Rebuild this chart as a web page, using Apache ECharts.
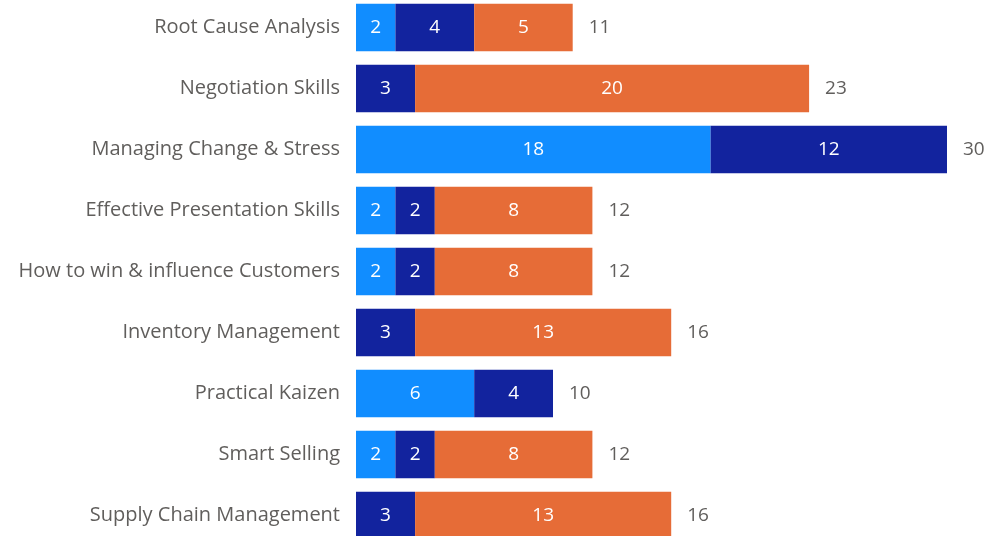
<!DOCTYPE html>
<html><head><meta charset="utf-8">
<script src="https://cdn.jsdelivr.net/npm/echarts@6/dist/echarts.min.js"></script>
<style>html,body{margin:0;padding:0;background:#fff;overflow:hidden;width:1000px;height:536px}#c{width:1000px;height:552px;margin-top:-3.5px}</style>
</head><body><div id="c"></div>
<script>
const categories = ["Root Cause Analysis","Negotiation Skills","Managing Change & Stress","Effective Presentation Skills","How to win & influence Customers","Inventory Management","Practical Kaizen","Smart Selling","Supply Chain Management"];
const seriesA = [2, null, 18, 2, 2, null, 6, 2, null];
const seriesB = [4, 3, 12, 2, 2, 3, 4, 2, 3];
const seriesC = [5, 20, null, 8, 8, 13, null, 8, 13];
const totals = [11, 23, 30, 12, 12, 16, 10, 12, 16];

const font = "'Open Sans', 'Noto Sans', sans-serif";
const inLabel = {show:true, position:'inside', color:'#fff', fontSize:19, fontFamily:font};
const chart = echarts.init(document.getElementById('c'));
chart.setOption({
  animation:false,
  grid:{left:356, width:591, top:0, height:549},
  xAxis:{type:'value', min:0, max:30, show:false},
  yAxis:{type:'category', data:categories, inverse:true,
    axisLine:{show:false}, axisTick:{show:false},
    axisLabel:{color:'#605E5C', fontSize:20, fontFamily:font, margin:16}},
  series:[
    {type:'bar', stack:'s', data:seriesA, barCategoryGap:'22%', itemStyle:{color:'#118DFF'}, label:inLabel},
    {type:'bar', stack:'s', data:seriesB, itemStyle:{color:'#12239E'}, label:inLabel},
    {type:'bar', stack:'s', data:seriesC, itemStyle:{color:'#E66C37'}, label:inLabel},
    {type:'bar', data:totals, barGap:'-100%', itemStyle:{color:'rgba(0,0,0,0)'}, silent:true,
     label:{show:true, position:'right', distance:16, color:'#605E5C', fontSize:19, fontFamily:font}}
  ]
});
</script></body></html>
